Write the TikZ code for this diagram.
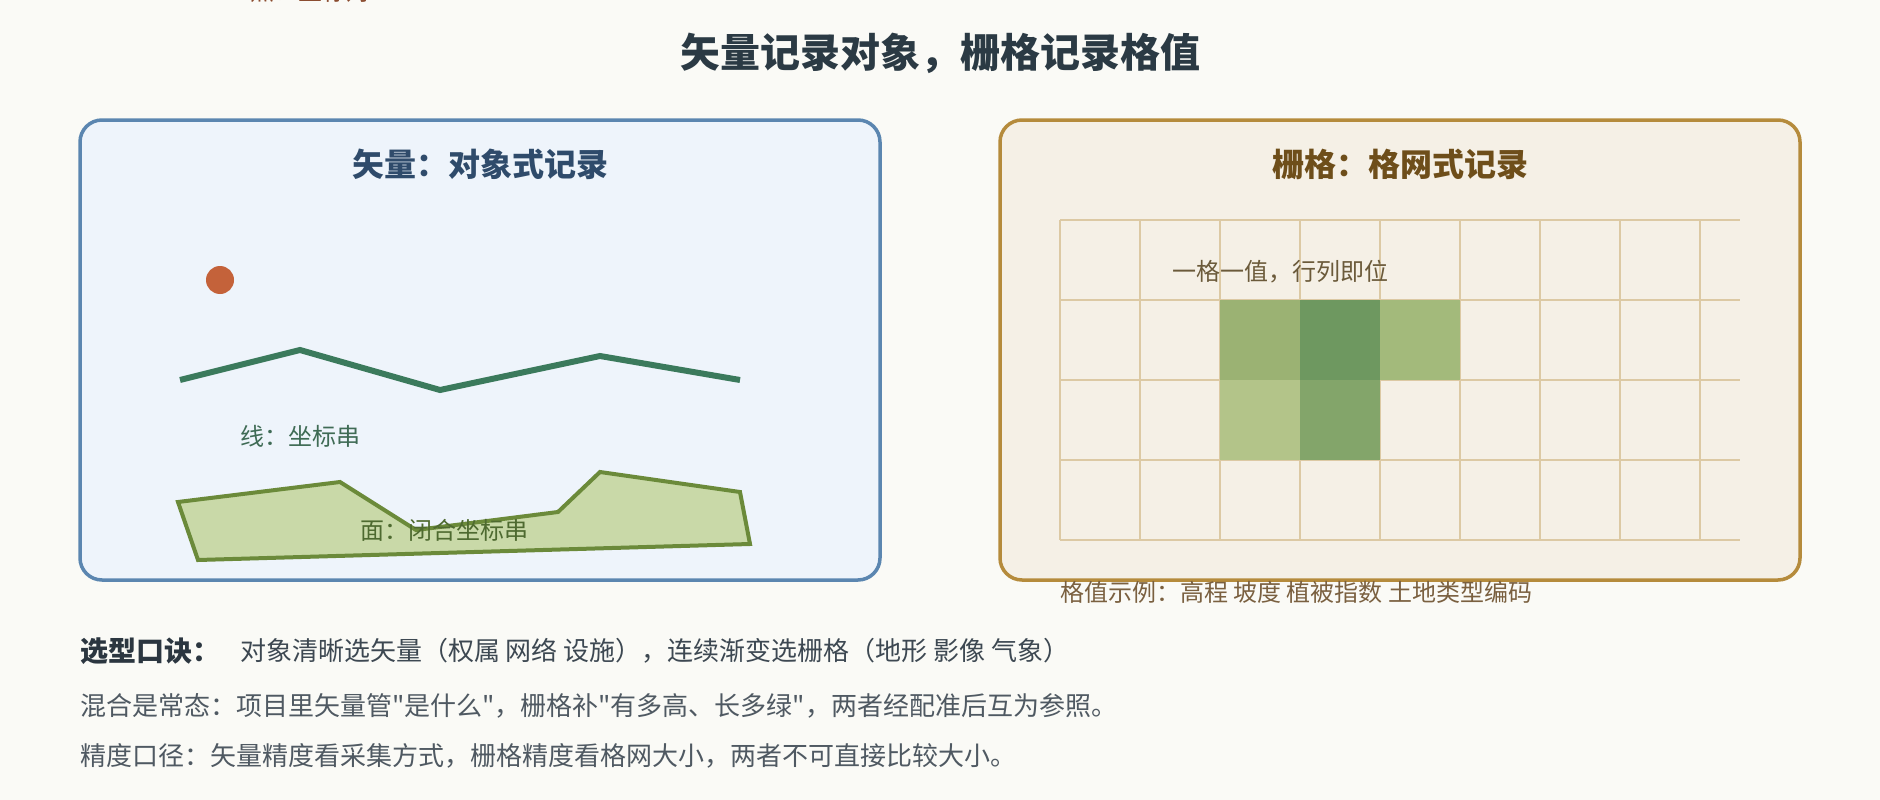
\documentclass[tikz,border=0pt]{standalone}
\usepackage{fontspec}
\setmainfont{Noto Sans CJK SC}[Ligatures=TeXOff]
\definecolor{bg}{HTML}{FAFAF6}
\definecolor{titlec}{HTML}{2B3A44}
\definecolor{vfill}{HTML}{EEF4FB}
\definecolor{vdraw}{HTML}{5B86B0}
\definecolor{vtitle}{HTML}{2F4B6B}
\definecolor{rfill}{HTML}{F5F0E6}
\definecolor{rdraw}{HTML}{B58B3C}
\definecolor{rtitle}{HTML}{6E4E1A}
\definecolor{ptc}{HTML}{C4623A}
\definecolor{ptlab}{HTML}{8A4B2E}
\definecolor{linec}{HTML}{3B7A5C}
\definecolor{linelab}{HTML}{3F6B55}
\definecolor{polyfill}{HTML}{C9D9A8}
\definecolor{polydraw}{HTML}{6B8A3A}
\definecolor{polylab}{HTML}{4E6A30}
\definecolor{gridc}{HTML}{DCC9A4}
\definecolor{gridlab}{HTML}{6B5A3A}
\definecolor{exlab}{HTML}{7A6040}
\definecolor{cA}{HTML}{9BB273}
\definecolor{cB}{HTML}{6E9860}
\definecolor{cC}{HTML}{A3BA7B}
\definecolor{cD}{HTML}{B3C489}
\definecolor{cE}{HTML}{83A56A}
\definecolor{boldc}{HTML}{2B3640}
\definecolor{body1}{HTML}{3D4852}
\definecolor{body2}{HTML}{4F5962}
\tikzset{
  panel/.style={rectangle, rounded corners=22pt, line width=3.5pt, minimum width=800pt, minimum height=460pt},
  ptitle/.style={font=\fontsize{32}{38}\selectfont\bfseries},
  lab/.style={font=\fontsize{24}{29}\selectfont, anchor=west},
  body/.style={font=\fontsize{26}{31}\selectfont, anchor=west},
}
\begin{document}
\begin{tikzpicture}[x=2pt,y=-2pt, every node/.style={inner sep=0pt, outer sep=0pt}]
\useasboundingbox (0,0) rectangle (940,400);
\fill[bg] (0,0) rectangle (940,400);

% clipped point label at the very top
\node[font=\fontsize{24}{29}\selectfont, text=ptlab, anchor=base west] (ptlabel) at (125,0.3) {点：坐标对};

% main title
\node[font=\fontsize{40}{48}\selectfont\bfseries, text=titlec] (title) at (470,26.5) {矢量记录对象，栅格记录格值};

% panels
\node[panel, fill=vfill, draw=vdraw] (vpanel) at (240,175) {};
\node[panel, fill=rfill, draw=rdraw] (rpanel) at (700,175) {};
\node[ptitle, text=vtitle] (vtitle) at (240,82) {矢量：对象式记录};
\node[ptitle, text=rtitle] (rtitle) at (700,82) {栅格：格网式记录};

% vector: point
\node[circle, fill=ptc, minimum size=28pt] (pt) at (110,140) {};

% vector: line
\draw[linec, line width=6pt] (90,190) -- (150,175) -- (220,195) -- (300,178) -- (370,190);
\node[lab, text=linelab] (linelabel) at (120,218) {线：坐标串};

% vector: polygon
\draw[polydraw, fill=polyfill, line width=4pt, line join=miter]
  (89,251) -- (170,241) -- (208,265) -- (279,256) -- (300,236) -- (370,246) -- (375,272) -- (99,280) -- cycle;
\node[lab, text=polylab] (polylabel) at (180,265) {面：闭合坐标串};

% raster grid
\foreach \i in {0,...,8} \draw[gridc, line width=2pt] (530+40*\i,110) -- (530+40*\i,270);
\foreach \j in {0,...,4} \draw[gridc, line width=2pt] (530,110+40*\j) -- (870,110+40*\j);
\fill[cA] (610,150) rectangle (650,190);
\fill[cB] (650,150) rectangle (690,190);
\fill[cC] (690,150) rectangle (730,190);
\fill[cD] (610,190) rectangle (650,230);
\fill[cE] (650,190) rectangle (690,230);
\node[lab, text=gridlab] (gridlabel) at (586,136) {一格一值，行列即位};
\node[lab, text=exlab] (exlabel) at (530,296) {格值示例：高程 坡度 植被指数 土地类型编码};

% bottom text
\node[font=\fontsize{28}{33}\selectfont\bfseries, text=boldc, anchor=west] (rulehead) at (40,325.5) {选型口诀：};
\node[body, text=body1] (rule) at (120,325.5) {对象清晰选矢量（权属 网络 设施），连续渐变选栅格（地形 影像 气象）};
\node[body, text=body2] (mix) at (40,353) {混合是常态：项目里矢量管"是什么"，栅格补"有多高、长多绿"，两者经配准后互为参照。};
\node[body, text=body2] (prec) at (40,378) {精度口径：矢量精度看采集方式，栅格精度看格网大小，两者不可直接比较大小。};
\end{tikzpicture}
\end{document}
